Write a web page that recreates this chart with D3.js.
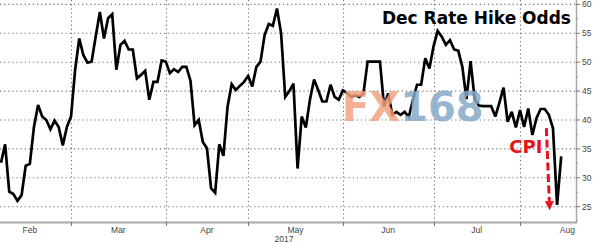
<!DOCTYPE html>
<html>
<head>
<meta charset="utf-8">
<script src="https://cdn.jsdelivr.net/npm/d3@7"></script>
<style>
  html, body { margin: 0; padding: 0; background: #fff; }
  svg { display: block; }
</style>
</head>
<body>
<svg id="chart" width="595" height="243"></svg>
<script>
// ---------- data ----------
const title = "Dec Rate Hike Odds";
const startDate = "2017-02-06";          // first (weekday) observation
const odds = [
  32.6, 35.8, 27.6, 27.2, 26.0, 27.0, 32.1, 32.4, 38.8, 42.6,
  40.6, 40.0, 38.4, 39.9, 38.8, 35.6, 38.8, 40.6, 48.7, 54.1,
  51.2, 49.9, 50.1, 54.5, 58.7, 54.1, 57.6, 58.3, 48.7, 53.0,
  53.7, 52.2, 52.2, 47.2, 47.8, 48.5, 43.5, 46.6, 46.6, 50.3,
  50.1, 48.1, 48.8, 48.3, 49.2, 49.2, 46.8, 39.1, 40.0, 36.2,
  35.1, 28.2, 27.4, 35.8, 33.8, 42.3, 46.2, 45.2, 45.9, 46.6,
  47.6, 45.8, 49.2, 50.1, 54.7, 56.6, 56.3, 59.3, 55.0, 44.0,
  45.0, 46.3, 31.6, 40.6, 38.7, 43.5, 47.0, 45.2, 43.2, 43.2,
  46.1, 44.0, 43.5, 45.1, 44.7, 44.0, 44.3, 44.0, 44.6, 50.1,
  50.1, 50.1, 50.1, 42.3, 44.6, 40.9, 41.4, 40.9, 41.4, 40.5,
  43.5, 46.1, 46.1, 50.7, 48.9, 52.7, 55.4, 54.4, 53.0, 53.8,
  52.2, 52.0, 49.2, 43.6, 50.2, 43.6, 42.5, 42.4, 42.4, 42.4,
  40.6, 43.0, 45.6, 39.7, 41.4, 38.7, 41.7, 38.8, 42.0, 37.4,
  40.3, 41.9, 41.9, 40.9, 38.6, 25.3, 33.7
];
const monthLabels = ["Feb", "Mar", "Apr", "May", "Jun", "Jul", "Aug"];
const monthStarts = ["2017-02-01","2017-03-01","2017-04-01","2017-05-01","2017-06-01","2017-07-01","2017-08-01","2017-09-01"];
const yearLabel = "2017";
const yTicks = [25, 30, 35, 40, 45, 50, 55, 60];
const yMinorTicks = [22.5, 27.5, 32.5, 37.5, 42.5, 47.5, 52.5, 57.5];
const annotationText = "CPI";
const arrowFrom = [132.4, 38.6];   // [weekday index, value]
const arrowTo = [133.2, 24.4];
const watermarkParts = ["FX", "168"];

// ---------- helpers ----------
const parse = d3.utcParse("%Y-%m-%d");
const start = parse(startDate);
function isWeekday(d) { const w = d.getUTCDay(); return w !== 0 && w !== 6; }
function weekdayIndex(date) {
  let n = 0;
  if (date >= start) {
    let d = new Date(start);
    while (d < date) { if (isWeekday(d)) n++; d = d3.utcDay.offset(d, 1); }
    return n;
  } else {
    let d = new Date(date);
    while (!isWeekday(d)) d = d3.utcDay.offset(d, 1);
    while (d < start) { if (isWeekday(d)) n--; d = d3.utcDay.offset(d, 1); }
    return n;
  }
}

// ---------- layout ----------
const svg = d3.select("#chart");
const plot = { left: 0, right: 576, top: 0, bottom: 222 };

const x = d3.scaleLinear().domain([0, odds.length - 1]).range([1, 561.2]);
const y = d3.scaleLinear().domain([22.35, 60.76]).range([plot.bottom, plot.top]);

const monthIdx = monthStarts.map(s => weekdayIndex(parse(s)));

// grid
const gridColor = "#7a7a7a";
svg.append("g").selectAll("line").data(yTicks).join("line")
  .attr("x1", plot.left).attr("x2", plot.right)
  .attr("y1", d => y(d)).attr("y2", d => y(d))
  .attr("stroke", gridColor).attr("stroke-width", 1.1)
  .attr("stroke-dasharray", "1.3 2.8");

svg.append("g").selectAll("line").data(monthIdx.slice(1, 7)).join("line")
  .attr("x1", d => Math.round(x(d)) + 0.5).attr("x2", d => Math.round(x(d)) + 0.5)
  .attr("y1", plot.top).attr("y2", plot.bottom)
  .attr("stroke", gridColor).attr("stroke-width", 1.1)
  .attr("stroke-dasharray", "1.3 2.8");

// line
const line = d3.line().x((d, i) => x(i)).y(d => y(d)).curve(d3.curveLinear);
svg.append("path").datum(odds)
  .attr("d", line)
  .attr("fill", "none")
  .attr("stroke", "#000")
  .attr("stroke-width", 2.7)
  .attr("stroke-linejoin", "miter")
  .attr("stroke-miterlimit", 3);

// watermark
const wm = svg.append("text")
  .attr("x", 342).attr("y", 121)
  .attr("font-family", "DejaVu Sans, sans-serif")
  .attr("font-weight", "bold")
  .attr("font-size", 40);
wm.append("tspan").text(watermarkParts[0]).attr("fill", "#f2a27e").attr("fill-opacity", 0.85);
wm.append("tspan").text(watermarkParts[1]).attr("fill", "#86a9c8").attr("fill-opacity", 0.85);

// axes lines
svg.append("line")
  .attr("x1", plot.left).attr("x2", plot.right + 1)
  .attr("y1", plot.bottom + 0.5).attr("y2", plot.bottom + 0.5)
  .attr("stroke", "#a8a8a8").attr("stroke-width", 2);
svg.append("line")
  .attr("x1", plot.right + 0.5).attr("x2", plot.right + 0.5)
  .attr("y1", plot.top).attr("y2", plot.bottom + 1)
  .attr("stroke", "#a8a8a8").attr("stroke-width", 1.5);

// y ticks & labels (right)
svg.append("g").selectAll("line").data(yTicks).join("line")
  .attr("x1", plot.right).attr("x2", plot.right + 4)
  .attr("y1", d => y(d)).attr("y2", d => y(d))
  .attr("stroke", "#777").attr("stroke-width", 1);
svg.append("g").selectAll("line").data(yMinorTicks).join("line")
  .attr("x1", plot.right).attr("x2", plot.right + 2)
  .attr("y1", d => y(d)).attr("y2", d => y(d))
  .attr("stroke", "#999").attr("stroke-width", 1);
svg.append("g").selectAll("text").data(yTicks).join("text")
  .attr("x", plot.right + 6).attr("y", d => y(d) + 3)
  .attr("font-family", "Liberation Sans, Arial, sans-serif")
  .attr("font-size", 8.5).attr("fill", "#444")
  .text(d => d);

// x ticks & month labels
svg.append("g").selectAll("line").data(monthIdx.slice(1, 7)).join("line")
  .attr("x1", d => Math.round(x(d)) + 0.5).attr("x2", d => Math.round(x(d)) + 0.5)
  .attr("y1", plot.bottom).attr("y2", plot.bottom + 4)
  .attr("stroke", "#777").attr("stroke-width", 1);
svg.append("g").selectAll("text").data(monthLabels).join("text")
  .attr("x", (d, i) => x((monthIdx[i] + monthIdx[i + 1]) / 2))
  .attr("y", 233)
  .attr("text-anchor", "middle")
  .attr("font-family", "Liberation Sans, Arial, sans-serif")
  .attr("font-size", 8.5).attr("fill", "#444")
  .text(d => d);
svg.append("text")
  .attr("x", (plot.left + plot.right) / 2 - 4).attr("y", 242)
  .attr("text-anchor", "middle")
  .attr("font-family", "Liberation Sans, Arial, sans-serif")
  .attr("font-size", 8.5).attr("fill", "#444")
  .text(yearLabel);

// title
svg.append("text")
  .attr("x", 571).attr("y", 24)
  .attr("text-anchor", "end")
  .attr("font-family", "DejaVu Sans, sans-serif")
  .attr("font-weight", "bold")
  .attr("font-size", 17)
  .attr("fill", "#000")
  .text(title);

// CPI annotation
const red = "#e8121a";
const ax1 = x(arrowFrom[0]), ay1 = y(arrowFrom[1]);
const ax2 = x(arrowTo[0]), ay2 = y(arrowTo[1]);
const headLen = 9;
const ang = Math.atan2(ay2 - ay1, ax2 - ax1);
const bx = ax2 - headLen * Math.cos(ang), by = ay2 - headLen * Math.sin(ang);
svg.append("line")
  .attr("x1", ax1).attr("y1", ay1).attr("x2", bx).attr("y2", by)
  .attr("stroke", red).attr("stroke-width", 3)
  .attr("stroke-dasharray", "8 3.5");
const px = -Math.sin(ang) * 4.5, py = Math.cos(ang) * 4.5;
svg.append("path")
  .attr("d", `M${ax2},${ay2}L${bx + px},${by + py}L${bx - px},${by - py}Z`)
  .attr("fill", red);
svg.append("text")
  .attr("x", ax1 - 4).attr("y", y(arrowFrom[1]) + 25)
  .attr("text-anchor", "end")
  .attr("font-family", "DejaVu Sans, sans-serif")
  .attr("font-weight", "bold")
  .attr("font-size", 18)
  .attr("fill", red)
  .text(annotationText);
</script>
</body>
</html>
